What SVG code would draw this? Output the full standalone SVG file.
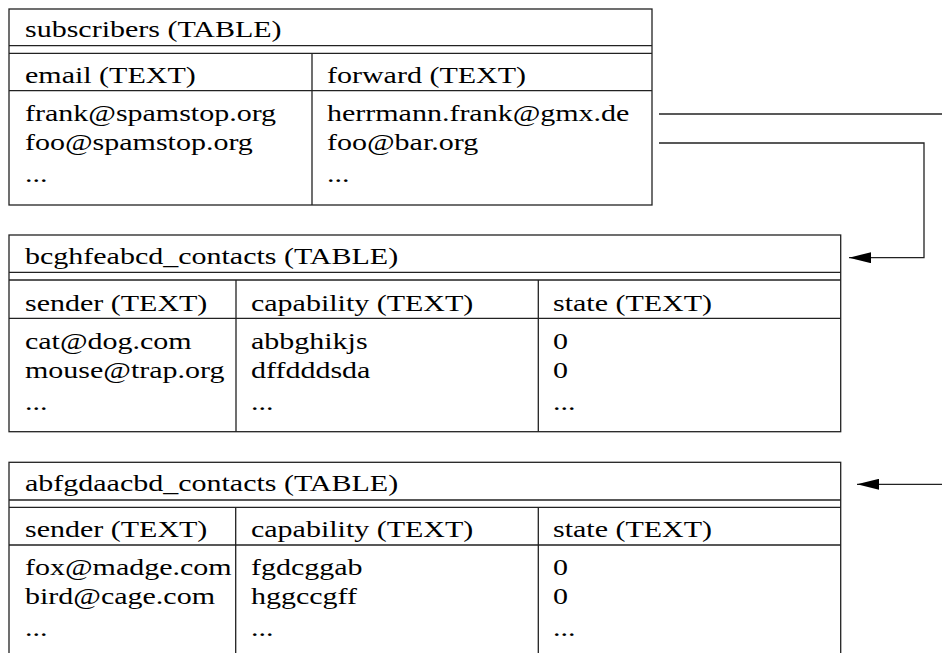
<svg xmlns="http://www.w3.org/2000/svg" width="942" height="653" viewBox="0 0 942 653">
<style>
.t{font-family:"Liberation Serif","Times New Roman",serif;font-size:24px;fill:#000}
.b{fill:none;stroke:#222;stroke-width:1.3}
.c{fill:none;stroke:#222;stroke-width:1.3}
</style>
<defs>
<marker id="ah" viewBox="0 0 22 11" refX="22" refY="5.5" markerWidth="22" markerHeight="11" markerUnits="userSpaceOnUse" orient="auto">
<path d="M0,0 L22,5.5 L0,11 z" fill="#000"/>
</marker>
</defs>
<rect width="942" height="653" fill="#fff"/>
<g id="subscribers">
<rect class="b" x="9" y="9" width="643" height="196"/>
<path class="b" d="M9,45.7H652M9,53.3H652M9,90.7H652M312,53.3V205"/>
<text class="t" transform="translate(25,37) scale(1.25,1)">subscribers (TABLE)</text>
<text class="t" transform="translate(25,83) scale(1.25,1)">email (TEXT)</text>
<text class="t" transform="translate(327,83) scale(1.25,1)">forward (TEXT)</text>
<text class="t" transform="translate(25,121) scale(1.25,1)">frank@spamstop.org</text>
<text class="t" transform="translate(25,150) scale(1.25,1)">foo@spamstop.org</text>
<text class="t" transform="translate(25,182) scale(1.25,1)">...</text>
<text class="t" transform="translate(327,121) scale(1.25,1)">herrmann.frank@gmx.de</text>
<text class="t" transform="translate(327,150) scale(1.25,1)">foo@bar.org</text>
<text class="t" transform="translate(327,182) scale(1.25,1)">...</text>
</g>
<g id="bcghfeabcd_contacts">
<rect class="b" x="9" y="235" width="831.7" height="196.7"/>
<path class="b" d="M9,272.3H840.7M9,280H840.7M9,318.3H840.7M236,280V431.7M538.3,280V431.7"/>
<text class="t" transform="translate(25,264) scale(1.25,1)">bcghfeabcd_contacts (TABLE)</text>
<text class="t" transform="translate(25,310.5) scale(1.25,1)">sender (TEXT)</text>
<text class="t" transform="translate(251,310.5) scale(1.25,1)">capability (TEXT)</text>
<text class="t" transform="translate(553,310.5) scale(1.25,1)">state (TEXT)</text>
<text class="t" transform="translate(25,348.5) scale(1.25,1)">cat@dog.com</text>
<text class="t" transform="translate(25,377.5) scale(1.25,1)">mouse@trap.org</text>
<text class="t" transform="translate(25,409.5) scale(1.25,1)">...</text>
<text class="t" transform="translate(251,348.5) scale(1.25,1)">abbghikjs</text>
<text class="t" transform="translate(251,377.5) scale(1.25,1)">dffdddsda</text>
<text class="t" transform="translate(251,409.5) scale(1.25,1)">...</text>
<text class="t" transform="translate(553,348.5) scale(1.25,1)">0</text>
<text class="t" transform="translate(553,377.5) scale(1.25,1)">0</text>
<text class="t" transform="translate(553,409.5) scale(1.25,1)">...</text>
</g>
<g id="abfgdaacbd_contacts">
<rect class="b" x="9" y="462.3" width="831.7" height="196.7"/>
<path class="b" d="M9,500H840.7M9,507.3H840.7M9,545H840.7M235.7,507.3V659M538.3,507.3V659"/>
<text class="t" transform="translate(25,491) scale(1.25,1)">abfgdaacbd_contacts (TABLE)</text>
<text class="t" transform="translate(25,537.2) scale(1.25,1)">sender (TEXT)</text>
<text class="t" transform="translate(251,537.2) scale(1.25,1)">capability (TEXT)</text>
<text class="t" transform="translate(553,537.2) scale(1.25,1)">state (TEXT)</text>
<text class="t" transform="translate(25,575) scale(1.25,1)">fox@madge.com</text>
<text class="t" transform="translate(25,604) scale(1.25,1)">bird@cage.com</text>
<text class="t" transform="translate(25,636) scale(1.25,1)">...</text>
<text class="t" transform="translate(251,575) scale(1.25,1)">fgdcggab</text>
<text class="t" transform="translate(251,604) scale(1.25,1)">hggccgff</text>
<text class="t" transform="translate(251,636) scale(1.25,1)">...</text>
<text class="t" transform="translate(553,575) scale(1.25,1)">0</text>
<text class="t" transform="translate(553,604) scale(1.25,1)">0</text>
<text class="t" transform="translate(553,636) scale(1.25,1)">...</text>
</g>
<g id="connectors">
<path class="c" d="M659,114H942"/>
<path class="c" d="M659,143H924V257.7H849" marker-end="url(#ah)"/>
<path class="c" d="M942,484.3H857" marker-end="url(#ah)"/>
</g>
</svg>
